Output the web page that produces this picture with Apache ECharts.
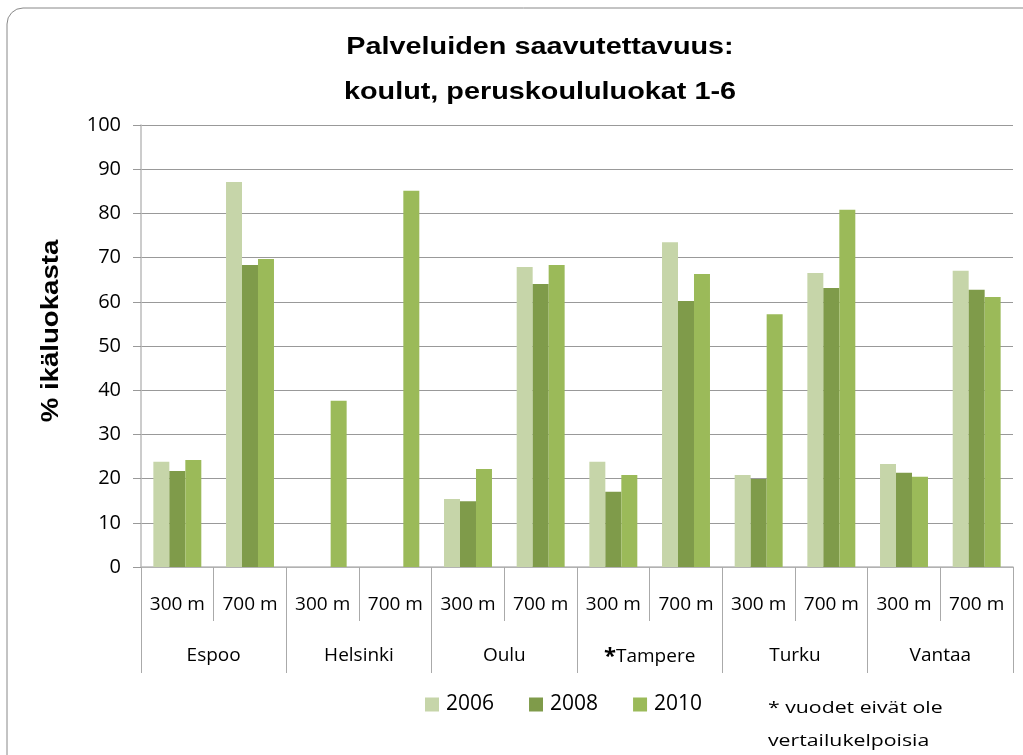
<!DOCTYPE html>
<html>
<head>
<meta charset="utf-8">
<script src="https://cdn.jsdelivr.net/npm/echarts@6/dist/echarts.min.js"></script>
<style>
  html, body { margin: 0; padding: 0; background: #fff; }
  #chart { width: 1023px; height: 755px; }
</style>
</head>
<body>
<div id="chart"></div>
<script>
var distances = ['300 m', '700 m', '300 m', '700 m', '300 m', '700 m', '300 m', '700 m', '300 m', '700 m', '300 m', '700 m'];
var cities = ['Espoo', 'Helsinki', 'Oulu', '*Tampere', 'Turku', 'Vantaa'];
var years = ['2006', '2008', '2010'];
var values2006 = [23.8, 87.1, null, null, 15.4, 67.9, 23.8, 73.5, 20.8, 66.5, 23.3, 67.0];
var values2008 = [21.7, 68.3, null, null, 14.9, 64.0, 17.0, 60.2, 19.9, 63.1, 21.3, 62.7];
var values2010 = [24.2, 69.7, 37.6, 85.1, 22.2, 68.3, 20.8, 66.3, 57.2, 80.8, 20.4, 61.1];
var colors = ['#C6D5A9', '#7F9B4A', '#9BBA59'];

var chart = echarts.init(document.getElementById('chart'), null, { renderer: 'canvas' });
var font = '"Open Sans", "Noto Sans", sans-serif';
var boldFont = '"Liberation Sans", Arial, sans-serif';

var option = {
  animation: false,
  backgroundColor: '#fff',
  color: colors,
  legend: {
    data: years,
    left: 420,
    top: 689,
    itemWidth: 14,
    itemHeight: 14,
    itemGap: 35,
    icon: 'rect',
    textStyle: { fontFamily: font, fontSize: 21, color: '#000', padding: [0, 0, 0, 2] }
  },
  grid: { left: 141, right: 10, top: 125, bottom: 188 },
  xAxis: [{
    type: 'category',
    data: distances,
    position: 'bottom',
    axisLine: { show: true, lineStyle: { color: '#bbb', width: 1.5 } },
    axisTick: { show: true, interval: 0, length: 54, lineStyle: { color: '#aaa' } },
    axisLabel: { interval: 0, margin: 28, fontFamily: font, fontSize: 19, color: '#000' }
  }, {
    type: 'category',
    data: cities,
    position: 'bottom',
    axisLine: { show: false },
    axisTick: { show: true, interval: 0, length: 106, lineStyle: { color: '#aaa' } },
    axisLabel: {
      interval: 0,
      margin: 79,
      fontFamily: font,
      fontSize: 19,
      color: '#000',
      formatter: function (v) {
        return v.charAt(0) === '*' ? '{s|*}' + v.slice(1) : v;
      },
      rich: { s: { fontSize: 22, fontWeight: 'bold', verticalAlign: 'top', color: '#000' } }
    }
  }],
  yAxis: {
    type: 'value',
    min: 0,
    max: 100,
    interval: 10,
    axisLine: { show: true, lineStyle: { color: '#bbb', width: 1.5 } },
    axisTick: { show: true, length: 8, lineStyle: { color: '#999' } },
    axisLabel: { margin: 20, fontFamily: font, fontSize: 20, color: '#000' },
    splitLine: { lineStyle: { color: '#999', width: 1 } }
  },
  series: [
    { name: years[0], type: 'bar', data: values2006, barGap: '0%', barCategoryGap: '34%' },
    { name: years[1], type: 'bar', data: values2008, barGap: '0%', barCategoryGap: '34%' },
    { name: years[2], type: 'bar', data: values2010, barGap: '0%', barCategoryGap: '34%' }
  ],
  graphic: [{
    type: 'rect',
    z: -1,
    shape: { x: 7, y: 8, width: 1200, height: 900, r: 16 },
    style: { fill: 'none', stroke: '#888', lineWidth: 1 }
  }, {
    type: 'text',
    x: 540,
    y: 47,
    scaleX: 1.2,
    style: {
      text: 'Palveluiden saavutettavuus:',
      font: 'bold 24px ' + boldFont,
      fill: '#000',
      align: 'center',
      verticalAlign: 'middle'
    }
  }, {
    type: 'text',
    x: 540,
    y: 92,
    scaleX: 1.2,
    style: {
      text: 'koulut, peruskoululuokat 1-6',
      font: 'bold 24px ' + boldFont,
      fill: '#000',
      align: 'center',
      verticalAlign: 'middle'
    }
  }, {
    type: 'text',
    x: 52,
    y: 331,
    rotation: Math.PI / 2,
    scaleX: 1.2,
    style: {
      text: '% ikäluokasta',
      font: 'bold 23px ' + boldFont,
      fill: '#000',
      align: 'center',
      verticalAlign: 'middle'
    }
  }, {
    type: 'text',
    x: 768,
    y: 708,
    scaleX: 1.25,
    style: {
      text: '* vuodet eivät ole',
      font: '17px ' + font,
      fill: '#000',
      align: 'left',
      verticalAlign: 'middle'
    }
  }, {
    type: 'text',
    x: 768,
    y: 741,
    scaleX: 1.25,
    style: {
      text: 'vertailukelpoisia',
      font: '17px ' + font,
      fill: '#000',
      align: 'left',
      verticalAlign: 'middle'
    }
  }]
};

chart.setOption(option);
</script>
</body>
</html>
